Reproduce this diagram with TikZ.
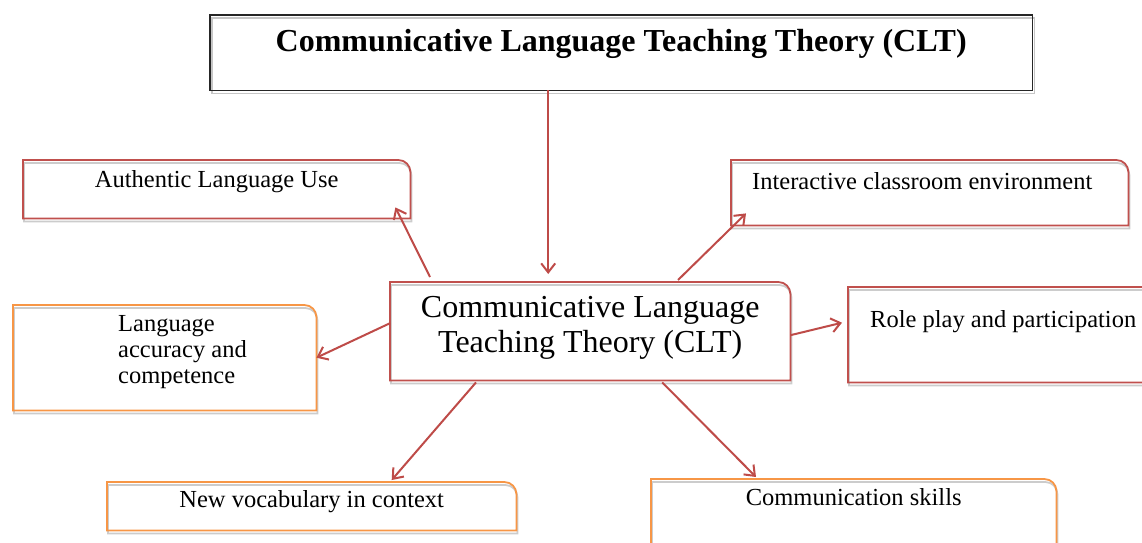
\documentclass[tikz,border=0pt]{standalone}
\usepackage{fontspec}
\setmainfont{Liberation Serif}
\usepackage{tikz}
\usetikzlibrary{arrows.meta}

\definecolor{boxred}{HTML}{C0504D}
\definecolor{boxorange}{HTML}{F79646}
\definecolor{arrred}{HTML}{BE4B48}

\begin{document}
\begin{tikzpicture}[x=1pt,y=-1pt,
		box/.style={anchor=north west,inner sep=0pt},
		lbl/.style={font=\fontsize{24.5}{26}\selectfont,inner sep=0pt,anchor=base},
		arr/.style={draw=arrred,line width=2pt,-{Straight Barb[length=9pt,width=14pt]}}]
				\useasboundingbox (0,0) rectangle (1142,542);
				\clip (0,0) rectangle (1142,542);
				
				% frames
				\node[box,minimum width=822pt,minimum height=75pt] (top) at (210,15) {};
				\node[box,minimum width=387pt,minimum height=58pt] (auth) at (23,160) {};
				\node[box,minimum width=397pt,minimum height=65pt] (inter) at (731,160) {};
				\node[box,minimum width=303pt,minimum height=105pt] (acc) at (13,305) {};
				\node[box,minimum width=400pt,minimum height=98pt] (clt) at (390,282) {};
				\node[box,minimum width=310pt,minimum height=95pt] (role) at (848,287) {};
				\node[box,minimum width=409pt,minimum height=48pt] (voc) at (107,482) {};
				\node[box,minimum width=405pt,minimum height=80pt] (comm) at (651,479) {};
				
				% texts (base of a multi-line node is its last line)
				\node[lbl,font=\bfseries\fontsize{32}{36}\selectfont] (topT) at ([yshift=-36pt]top.north) {Communicative Language Teaching Theory (CLT)};
				\node[lbl] (authT) at ([yshift=-27pt]auth.north) {Authentic Language Use};
				\node[lbl,anchor=base west] (interT) at ([xshift=21pt,yshift=-29pt]inter.north west) {Interactive classroom environment};
				\node[lbl,anchor=base west,align=left] (accT) at ([xshift=105pt,yshift=-78pt]acc.north west) {Language\\accuracy and\\competence};
				\node[lbl,align=center,font=\fontsize{32}{35}\selectfont] (cltT) at ([yshift=-70pt]clt.north) {Communicative Language\\Teaching Theory (CLT)};
				\node[lbl,anchor=base west] (roleT) at ([xshift=22pt,yshift=-40pt]role.north west) {Role play and participation};
				\node[lbl] (vocT) at ([yshift=-25pt]voc.north) {New vocabulary in context};
				\node[lbl] (commT) at ([yshift=-26pt]comm.north) {Communication skills};
				
				% outlines with a soft shadow
				\draw[gray!45,line width=1.8pt,transform canvas={xshift=2pt,yshift=-3pt}] (top.south west) rectangle (top.north east);
				\draw[black!85,line width=1.6pt] (top.south west) rectangle (top.north east);
				\foreach \b/\c in {auth/boxred,inter/boxred,clt/boxred,role/boxred,acc/boxorange,voc/boxorange,comm/boxorange}{
					\draw[gray!40,line width=1.8pt,transform canvas={xshift=1pt,yshift=-3pt}] (\b.south west) -- (\b.north west) -- ([xshift=-12pt]\b.north east) arc[start angle=90,end angle=0,radius=12pt] -- (\b.south east) -- cycle;
					\draw[\c,line width=1.8pt] (\b.south west) -- (\b.north west) -- ([xshift=-12pt]\b.north east) arc[start angle=90,end angle=0,radius=12pt] -- (\b.south east) -- cycle;
				}
				
				% arrows
				\draw[arr] ([xshift=-73pt]top.south) -- ([xshift=-42pt,yshift=8pt]clt.north);
				\draw[arr] ([xshift=40pt,yshift=5pt]clt.north west) -- ([xshift=-15pt,yshift=11pt]auth.south east);
				\draw[arr] ([xshift=288pt,yshift=2pt]clt.north west) -- ([xshift=15pt,yshift=12pt]inter.south west);
				\draw[arr] ([yshift=8pt]clt.west) -- (acc.east);
				\draw[arr] ([yshift=-4pt]clt.east) -- ([xshift=-6pt,yshift=12pt]role.west);
				\draw[arr] ([xshift=86pt,yshift=-2pt]clt.south west) -- ([xshift=80pt,yshift=2pt]voc.north);
				\draw[arr] ([xshift=72pt,yshift=-2pt]clt.south) -- ([xshift=105pt,yshift=2pt]comm.north west);
			\end{tikzpicture}
\end{document}
